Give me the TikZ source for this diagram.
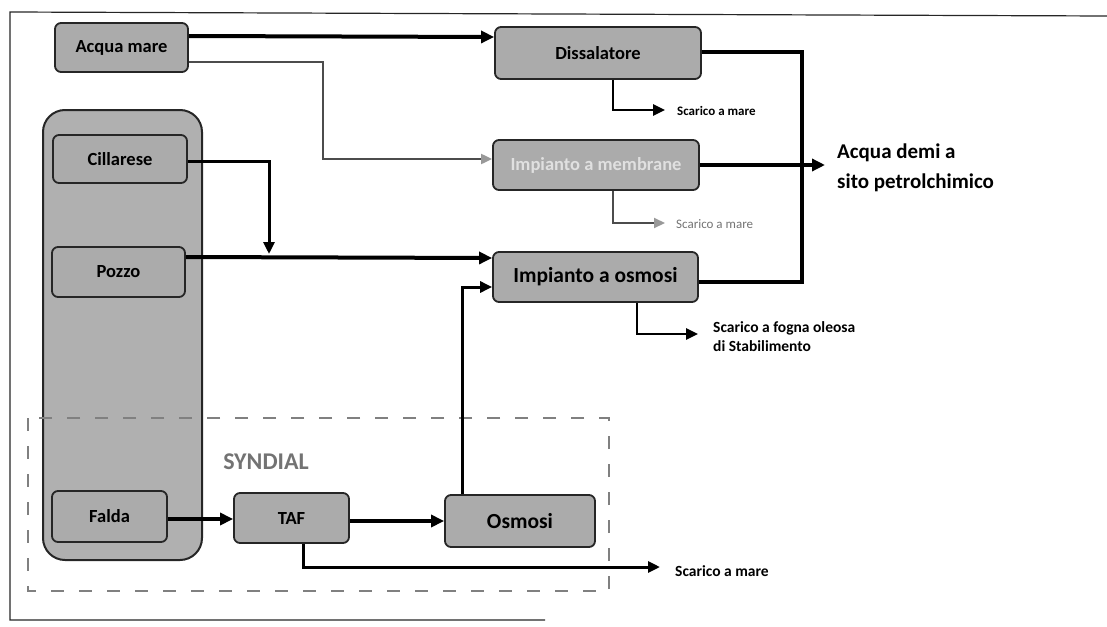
\documentclass[tikz,border=0pt]{standalone}
\usepackage{fontspec}
\setmainfont{Carlito}
\usetikzlibrary{arrows.meta}
\tikzset{
  box/.style={draw=black!85, line width=1.8pt, rounded corners=6pt, fill=black!33,
    font=\bfseries\fontsize{18.5}{20}\selectfont, inner sep=0pt, anchor=center},
  big/.style={font=\bfseries\fontsize{21.5}{23}\selectfont},
  arr/.style={line width=4pt, -{Triangle[length=13pt,width=12pt]}},
  sarr/.style={line width=2.6pt, -{Triangle[length=12pt,width=11pt]}},
  garr/.style={line width=2pt, draw=black!70, -{Triangle[length=11pt,width=10pt,color=black!40]}},
  plain/.style={line width=3.6pt},
  lbl/.style={anchor=west, inner sep=0pt, align=left},
}
\begin{document}
\begin{tikzpicture}[x=1pt,y=-1pt]
\useasboundingbox (0,0) rectangle (1107,626);
% outer frame
\draw[line width=1.2pt, black!85] (1107,16) -- (10,12) -- (10,620) -- (545,620);
% group box
\node[draw=black!85, line width=2pt, rounded corners=22pt, fill=black!31, minimum width=159pt, minimum height=450pt, inner sep=0pt] (grp) at (122.5,335) {};
% dashed SYNDIAL frame
\draw[black!50, line width=1.4pt, dash pattern=on 13pt off 15pt] (28,418) rectangle (609,591);
\node[font=\bfseries\fontsize{24}{26}\selectfont, text=black!55, inner sep=0pt] (syn) at (266,462) {SYNDIAL};
% boxes
\node[box, minimum width=133pt, minimum height=49pt] (acqua) at (121.5,47.5) {Acqua mare};
\node[box, minimum width=206pt, minimum height=52pt] (dissal) at (598,53) {Dissalatore};
\node[box, minimum width=206pt, minimum height=50pt, text=black!12] (membr) at (596,165) {Impianto a membrane};
\node[box, big, minimum width=205pt, minimum height=50pt] (osmimp) at (595.5,277) {Impianto a osmosi};
\node[box, minimum width=134pt, minimum height=48pt] (cill) at (120,159) {Cillarese};
\node[box, minimum width=133pt, minimum height=50pt] (pozzo) at (118.5,272) {Pozzo};
\node[box, minimum width=115pt, minimum height=51pt] (falda) at (109.5,516.5) {Falda};
\node[box, minimum width=115pt, minimum height=50pt] (taf) at (291.5,518) {TAF};
\node[box, big, minimum width=150pt, minimum height=52pt] (osm) at (520,521) {Osmosi};
% labels
\node[lbl, font=\bfseries\fontsize{13}{14}\selectfont] (s1) at (677,111) {Scarico a mare};
\node[lbl, font=\fontsize{13}{14}\selectfont, text=black!55] (s2) at (676,224) {Scarico a mare};
\node[lbl, font=\bfseries\fontsize{15.5}{19}\selectfont] (s3) at (713,337) {Scarico a fogna oleosa\\di Stabilimento};
\node[lbl, font=\bfseries\fontsize{15.5}{17}\selectfont] (s4) at (675,571) {Scarico a mare};
\node[lbl, font=\bfseries\fontsize{21}{30}\selectfont] (out) at (837,168) {Acqua demi a\\sito petrolchimico};
% connectors
\coordinate (cj) at (269,254);
\draw[arr] (acqua.east |- 0,36) -- (dissal.west |- 0,37);
\draw[garr] (acqua.east |- 0,62) -- (323,62) -- (323,159) -- (membr.west |- 0,159);
\draw[sarr, line width=3pt] (cill.east |- 0,161) -| (cj);
\draw[arr] (pozzo.east |- 0,257) -- (osmimp.west |- 0,258);
\draw[sarr, line width=3pt] (osm.north -| 462,0) -- (462,287) -- (osmimp.west |- 0,287);
\draw[arr] (falda.east |- 0,519) -- (taf.west |- 0,519);
\draw[arr] (taf.east |- 0,521) -- (osm.west |- 0,521);
\draw[sarr, line width=3pt] (taf.south -| 303,0) -- (303,567) -- ([xshift=-15pt]s4.west |- 0,567);
\draw[sarr] (dissal.south -| 613,0) -- (613,110) -- ([xshift=-12pt]s1.west |- 0,110);
\draw[garr] (membr.south -| 613,0) -- (613,223) -- ([xshift=-11pt]s2.west |- 0,223);
\draw[sarr] (osmimp.south -| 637,0) -- (637,334) -- ([xshift=-15pt]s3.west |- 0,334);
\draw[plain] (dissal.east |- 0,52) -- (802,52) -- (802,282) -- (osmimp.east |- 0,282);
\draw[arr] (membr.east |- 0,165) -- ([xshift=-12pt]out.west |- 0,165);
\end{tikzpicture}
\end{document}
